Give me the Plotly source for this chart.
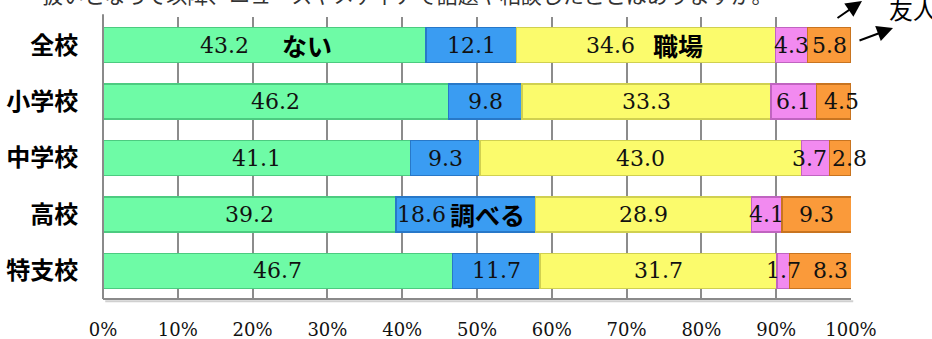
import plotly.graph_objects as go

categories = ["全校", "小学校", "中学校", "高校", "特支校"]
series_names = ["ない", "調べる", "職場", "その他", "友人"]
v_nai = [43.2, 46.2, 41.1, 39.2, 46.7]
v_shiraberu = [12.1, 9.8, 9.3, 18.6, 11.7]
v_shokuba = [34.6, 33.3, 43.0, 28.9, 31.7]
v_other = [4.3, 6.1, 3.7, 4.1, 1.7]
v_yujin = [5.8, 4.5, 2.8, 9.3, 8.3]
x_ticks = [0, 10, 20, 30, 40, 50, 60, 70, 80, 90, 100]
x_ticklabels = [f"{t}%" for t in x_ticks]

series = [v_nai, v_shiraberu, v_shokuba, v_other, v_yujin]
fills = ["#6EFBA6", "#3A9CF2", "#FBFB6C", "#F28AF0", "#FA9A3A"]
edges = ["#4CCB80", "#2878C8", "#D0D050", "#C064C0", "#C87420"]

W, H = 932, 339
L, R, T, B = 103, 81, 17, 40

fig = go.Figure()
for name, vals, fc, ec in zip(series_names, series, fills, edges):
    fig.add_trace(go.Bar(
        y=categories, x=vals, name=name, orientation="h",
        marker=dict(color=fc, line=dict(color=ec, width=1.5)),
        hoverinfo="skip",
    ))

label_font = dict(family="DejaVu Serif", size=22, color="#111")
kw_font = dict(family="Noto Sans CJK JP", size=25, color="#000", weight="bold")

# keyword annotations attached to specific cells: (series index, category index) -> (text, value shift, keyword shift)
keywords = {(0, 0): ("ない", -40, 42), (2, 0): ("職場", -36, 32), (1, 3): ("調べる", -44, 22)}
# small horizontal nudges of value labels in narrow segments (pixels)
label_nudge = {(4, 1): 8, (3, 2): -6, (4, 2): 10, (4, 4): 10}

annotations = []
for ci, cat in enumerate(categories):
    left = 0.0
    for si, vals in enumerate(series):
        v = vals[ci]
        mid = left + v / 2
        vshift = label_nudge.get((si, ci), 0)
        if (si, ci) in keywords:
            kw, vshift, kshift = keywords[(si, ci)]
            annotations.append(dict(x=mid, y=cat, xref="x", yref="y", text=kw,
                                    showarrow=False, font=kw_font, xshift=kshift))
        annotations.append(dict(x=mid, y=cat, xref="x", yref="y", text=f"{v:.1f}",
                                showarrow=False, font=label_font, xshift=vshift))
        left += v

def px(xp):
    return (xp - L) / (W - L - R)

def py(yp):
    return (H - B - yp) / (H - T - B)

# clipped header text at the top
annotations.append(dict(x=px(40), y=py(-6), xref="paper", yref="paper", xanchor="left",
                        yanchor="middle", text="扱いとなって以降、ニュースやメディアで話題や相談したことはありますか。",
                        showarrow=False, font=dict(family="Noto Sans CJK JP", size=21, color="#333")))
annotations.append(dict(x=px(887), y=py(9), xref="paper", yref="paper", xanchor="left",
                        yanchor="middle", text="友人", showarrow=False,
                        font=dict(family="Noto Sans CJK JP", size=24, color="#000")))
# arrows (head position, tail offset in pixels)
annotations.append(dict(x=px(893), y=py(28), ax=-35, ay=13, xref="paper", yref="paper",
                        axref="pixel", ayref="pixel", text="", showarrow=True, arrowhead=2,
                        arrowsize=1.6, arrowwidth=2, arrowcolor="#000"))
annotations.append(dict(x=px(862), y=py(-2), ax=-26, ay=21, xref="paper", yref="paper",
                        axref="pixel", ayref="pixel", text="", showarrow=True, arrowhead=2,
                        arrowsize=1.6, arrowwidth=2, arrowcolor="#000"))

shapes = [
    dict(type="line", xref="paper", yref="paper", x0=0, x1=0, y0=0, y1=1.01,
         line=dict(color="#8a8a8a", width=2)),
    dict(type="line", xref="paper", yref="paper", x0=0, x1=1, y0=0, y1=0,
         line=dict(color="#8a8a8a", width=2)),
    dict(type="line", xref="paper", yref="paper", x0=0.003, x1=1.003, y0=-0.008, y1=-0.008,
         line=dict(color="#d0d0d0", width=2)),
]

fig.update_layout(
    width=W, height=H,
    margin=dict(l=L, r=R, t=T, b=B, pad=0),
    barmode="stack", bargap=0.38,
    showlegend=False,
    plot_bgcolor="white", paper_bgcolor="white",
    xaxis=dict(range=[0, 100], tickvals=x_ticks, ticktext=x_ticklabels,
               showgrid=True, gridcolor="#8c8c8c", gridwidth=1.5,
               zeroline=False, showline=False,
               ticks="outside", ticklen=14, tickcolor="rgba(0,0,0,0)",
               tickfont=dict(family="DejaVu Serif", size=18, color="#111"),
               automargin=False, fixedrange=True),
    yaxis=dict(categoryorder="array", categoryarray=categories, autorange="reversed",
               showgrid=False, zeroline=False, showline=False,
               ticks="outside", ticklen=19, tickcolor="rgba(0,0,0,0)",
               tickfont=dict(family="Noto Sans CJK JP", size=24, color="#000", weight="bold"),
               automargin=False, fixedrange=True),
    annotations=annotations,
    shapes=shapes,
)

fig.write_html("out.html")
